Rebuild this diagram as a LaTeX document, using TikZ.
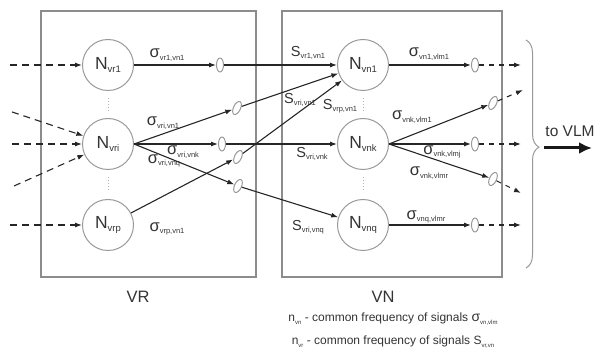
\documentclass[tikz,border=0pt]{standalone}
\usepackage{fontspec}
\setmainfont{Liberation Sans}
\usetikzlibrary{arrows.meta,shapes.geometric,decorations.pathreplacing}

\newcommand{\lo}[2][7.5]{\raisebox{-2.5pt}{\fontsize{#1}{#1}\selectfont #2}}
\newcommand{\nlab}[1]{{\fontsize{17.5}{17}\selectfont N}\lo[9.5]{#1}}
\newcommand{\siglab}[1]{{\fontsize{16.5}{16}\selectfont σ}\lo{#1}}
\newcommand{\slab}[1]{{\fontsize{14.5}{14}\selectfont S}\lo{#1}}

\tikzset{
	neuron/.style={draw=gray!80, line width=1pt, circle, minimum size=51pt, inner sep=0pt, text=black!80},
	osc/.style={draw=gray!80, line width=1pt, ellipse, minimum width=7pt, minimum height=14pt, inner sep=0pt, fill=white},
	layerbox/.style={draw=gray!90, line width=1.1pt, inner sep=0pt},
	sig/.style={draw=black!85, line width=1.1pt, -{Latex[length=7pt,width=5pt]}},
	sigin/.style={sig, dash pattern=on 7pt off 5pt},
	sigout/.style={sig, dash pattern=on 5pt off 5pt},
	lbl/.style={inner sep=0pt, text=black!80},
	vdots/.style={draw=gray!60, dotted, line width=1pt, shorten >=7pt, shorten <=7pt}
}

\begin{document}
\begin{tikzpicture}[x=1pt, y=-1pt]
				\useasboundingbox (0,0) rectangle (597,352);
				% layers
				\node[layerbox, minimum width=215pt, minimum height=266pt] (VR) at (148.5,144) {};
				\node[layerbox, minimum width=220pt, minimum height=266pt] (VN) at (392,144) {};
				\node[lbl, font=\fontsize{16.5}{17}\selectfont] (VRname) at (138,297) {VR};
				\node[lbl, font=\fontsize{16.5}{17}\selectfont] (VNname) at (383,297) {VN};

				% neurons
				\node[neuron] (vr1) at (108,65) {\nlab{vr1}};
				\node[neuron] (vri) at (108,144) {\nlab{vri}};
				\node[neuron] (vrp) at (108,225) {\nlab{vrp}};
				\node[neuron] (vn1) at (363,65) {\nlab{vn1}};
				\node[neuron] (vnk) at (363,144) {\nlab{vnk}};
				\node[neuron] (vnq) at (363,225) {\nlab{vnq}};
				\draw[vdots] (vr1) -- (vri);
				\draw[vdots] (vri) -- (vrp);
				\draw[vdots] (vn1) -- (vnk);
				\draw[vdots] (vnk) -- (vnq);

				% oscillators
				\node[osc] (o1) at (220,65) {};
				\node[osc, rotate=-25] (o2) at (237,108) {};
				\node[osc] (o3) at (222,144) {};
				\node[osc, rotate=-25] (o4) at (238,186) {};
				\node[osc, rotate=-25] (o5) at (238,157) {};
				\node[osc] (p1) at (475,65) {};
				\node[osc, rotate=-25] (p2) at (493,103) {};
				\node[osc] (p3) at (475,144) {};
				\node[osc, rotate=-25] (p4) at (493,179) {};
				\node[osc] (p5) at (475,225) {};

				% inputs
				\coordinate (i1) at (10,65);
				\coordinate (i2) at (12,112);
				\coordinate (i3) at (12,144);
				\coordinate (i4) at (14,186);
				\coordinate (i5) at (10,225);
				\draw[sigin] (i1) -- (vr1);
				\draw[sigin] (i2) -- (vri);
				\draw[sigin] (i3) -- (vri);
				\draw[sigin] (i4) -- (vri);
				\draw[sigin] (i5) -- (vrp);

				% VR -> VN
				\draw[sig] (vr1) -- (o1);
				\draw[sig] (o1) -- (vn1);
				\draw[sig] (vri.east) -- (o2);
				\draw[sig] (o2) -- (vn1);
				\draw[sig] (vri.east) -- (o3);
				\draw[sig] (o3) -- (vnk);
				\draw[sig] (vri.east) -- (o4);
				\draw[sig] (o4) -- (vnq);
				\draw[sig] (vrp) -- (o5);
				\draw[sig] (o5) -- (vn1);

				% VN -> VLM
				\coordinate (q1) at (521,65);
				\coordinate (q2) at (523,90);
				\coordinate (q3) at (521,144);
				\coordinate (q4) at (521,193);
				\coordinate (q5) at (521,225);
				\draw[sig] (vn1) -- (p1);
				\draw[sig] (vnk.east) -- (p2);
				\draw[sig] (vnk.east) -- (p3);
				\draw[sig] (vnk.east) -- (p4);
				\draw[sig] (vnq) -- (p5);
				\draw[sigout] (p1) -- (q1);
				\draw[sigout] (p2) -- (q2);
				\draw[sigout] (p3) -- (q3);
				\draw[sigout] (p4) -- (q4);
				\draw[sigout] (p5) -- (q5);

				% signal labels
				\node[lbl] (t1) at (167,55) {\siglab{vr1,vn1}};
				\node[lbl] (t2) at (163,123) {\siglab{vri,vn1}};
				\node[lbl] (t3) at (183,152) {\siglab{vri,vnk}};
				\node[lbl] (t4) at (164,161) {\siglab{vri,vnq}};
				\node[lbl] (t5) at (167,229) {\siglab{vrp,vn1}};
				\node[lbl] (s1) at (308,53) {\slab{vr1,vn1}};
				\node[lbl] (s2) at (300,100) {\slab{vri,vn1}};
				\node[lbl] (s3) at (340,106) {\slab{vrp,vn1}};
				\node[lbl] (s4) at (312,154) {\slab{vri,vnk}};
				\node[lbl] (s5) at (308,227) {\slab{vri,vnq}};
				\node[lbl] (u1) at (429,54) {\siglab{vn1,vlm1}};
				\node[lbl] (u2) at (412,117) {\siglab{vnk,vlm1}};
				\node[lbl] (u3) at (442,152) {\siglab{vnk,vlmj}};
				\node[lbl] (u4) at (429,173) {\siglab{vnk,vlmr}};
				\node[lbl] (u5) at (426,217) {\siglab{vnq,vlmr}};

				% output to VLM
				\draw[draw=gray!80, line width=1pt, decorate, decoration={brace, amplitude=13pt, aspect=0.47}] (526,40) -- (526,268);
				\coordinate (tip) at (544,148);
				\coordinate (vlm) at (592,148);
				\draw[line width=3pt, draw=black!90, -{Latex[length=13pt,width=12pt]}] (tip) -- (vlm);
				\node[lbl, font=\fontsize{15.5}{16}\selectfont] (tovlm) at (570,131) {to VLM};

				% legend
				\node[lbl, font=\fontsize{12}{13}\selectfont] (leg1) at (393,319) {n\lo[6]{vn} - common frequency of signals {\fontsize{14}{14}\selectfont σ}\lo[6]{vn,vlm}};
				\node[lbl, font=\fontsize{12}{13}\selectfont] (leg2) at (393,342) {n\lo[6]{vr} - common frequency of signals S\lo[6]{vr,vn}};
			\end{tikzpicture}
\end{document}
